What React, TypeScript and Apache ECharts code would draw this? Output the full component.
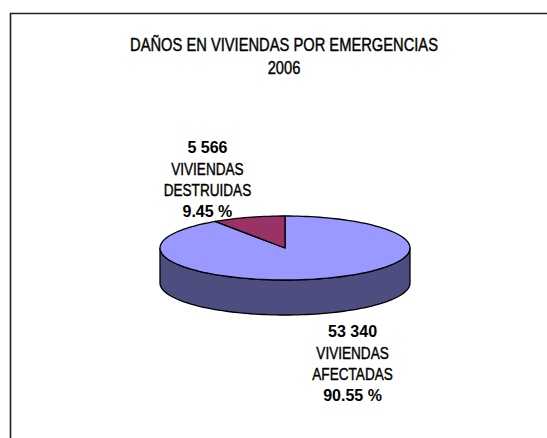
import React, { useEffect, useRef } from "react";
import * as echarts from "echarts";

const titleLines = ["DAÑOS EN VIVIENDAS POR EMERGENCIAS", "2006"];
const categories = ["VIVIENDAS\nAFECTADAS", "VIVIENDAS\nDESTRUIDAS"];
const values = [53340, 5566];

const topColors = ["#9999FF", "#993366"];
const sideColors = ["#4D4D80", "#4D1A33"];

const FONT = "'Liberation Sans', Arial, sans-serif";
const NARROW_SCALE = 0.8;

function fmtThousands(v: number) {
  return String(v).replace(/\B(?=(\d{3})+(?!\d))/g, " ");
}

export default function App() {
  const ref = useRef<HTMLDivElement>(null);
  useEffect(() => {
    document.body.style.margin = "0";
    if (!ref.current) return;
    const chart = echarts.init(ref.current, null, { renderer: "svg" });
    const total = values.reduce((a, b) => a + b, 0);
    const PIE = { cx: 285, cy: 248, rx: 125, ry: 32, depth: 35 };
    const LINE_H = 21.3;

    const pt = (t: number, dy = 0) => [
      PIE.cx + PIE.rx * Math.sin(t),
      PIE.cy - PIE.ry * Math.cos(t) + dy,
    ];
    const arc = (a: number, b: number, dy = 0) => {
      const pts: number[][] = [];
      const n = Math.max(2, Math.ceil(((b - a) / (2 * Math.PI)) * 180));
      for (let i = 0; i <= n; i++) pts.push(pt(a + ((b - a) * i) / n, dy));
      return pts;
    };

    const renderItem = (params: any, api: any) => {
      const idx = params.dataIndex;
      let before = 0;
      for (let i = 0; i < idx; i++) before += values[i];
      const v = api.value(0);
      const start = (before / total) * 2 * Math.PI;
      const end = ((before + v) / total) * 2 * Math.PI;
      const children: any[] = [];
      // side wall (front half only)
      const a = Math.max(start, Math.PI / 2);
      const b = Math.min(end, (3 * Math.PI) / 2);
      if (b > a) {
        const top = arc(a, b);
        const bottom = arc(a, b, PIE.depth).reverse();
        children.push({
          type: "polygon",
          z2: 1,
          shape: { points: top.concat(bottom) },
          style: { fill: sideColors[idx], stroke: "#000", lineWidth: 1.3 },
        });
      }
      // top face
      children.push({
        type: "polygon",
        z2: 10,
        shape: { points: [[PIE.cx, PIE.cy]].concat(arc(start, end)) },
        style: { fill: topColors[idx], stroke: "#000", lineWidth: 1.3, lineJoin: "round" },
      });
      // label
      const mid = (start + end) / 2;
      const s = Math.sin(mid);
      const c = Math.cos(mid);
      const front = c < 0;
      const e = pt(mid, front ? PIE.depth : 0);
      const lx = e[0] + (s > 0 ? 31 : -41);
      const ly = e[1] + (front ? 50 : -38);
      const pct = ((v / total) * 100).toFixed(2) + " %";
      const lines: { t: string; bold: boolean }[] = [
        { t: fmtThousands(v), bold: true },
        ...categories[idx].split("\n").map((t) => ({ t, bold: false })),
        { t: pct, bold: true },
      ];
      lines.forEach((ln, i) => {
        const st: any = {
          text: ln.t,
          align: "center",
          verticalAlign: "middle",
          fontFamily: FONT,
          fontWeight: ln.bold ? "bold" : "normal",
          fontSize: ln.bold ? 16 : 17,
          fill: "#000",
        };
        if (!ln.bold) {
          st.stroke = "#000";
          st.lineWidth = 0.4;
        }
        children.push({
          type: "text",
          z2: 20,
          x: lx,
          y: ly + (i - (lines.length - 1) / 2) * LINE_H,
          scaleX: ln.bold ? 1 : NARROW_SCALE,
          style: st,
        });
      });
      return { type: "group", children };
    };

    chart.setOption({
      animation: false,
      backgroundColor: "#fff",
      graphic: [
        {
          type: "rect",
          shape: { x: 10.5, y: 13.5, width: 700, height: 600 },
          style: { fill: "none", stroke: "#222", lineWidth: 1.6 },
          silent: true,
        },
        ...titleLines.map((t, i) => ({
          type: "text",
          x: 284,
          y: 45 + i * 23,
          scaleX: 0.84,
          style: {
            text: t,
            align: "center",
            verticalAlign: "middle",
            fontFamily: FONT,
            fontSize: 17.5,
            fill: "#000",
            stroke: "#000",
            lineWidth: 0.4,
          },
          silent: true,
        })),
      ],
      series: [
        {
          type: "custom",
          coordinateSystem: "none",
          renderItem,
          data: values.map((v, i) => ({ name: categories[i], value: [v] })),
        },
      ],
    });
    return () => chart.dispose();
  }, []);
  return <div ref={ref} style={{ width: 547, height: 438 }} />;
}
